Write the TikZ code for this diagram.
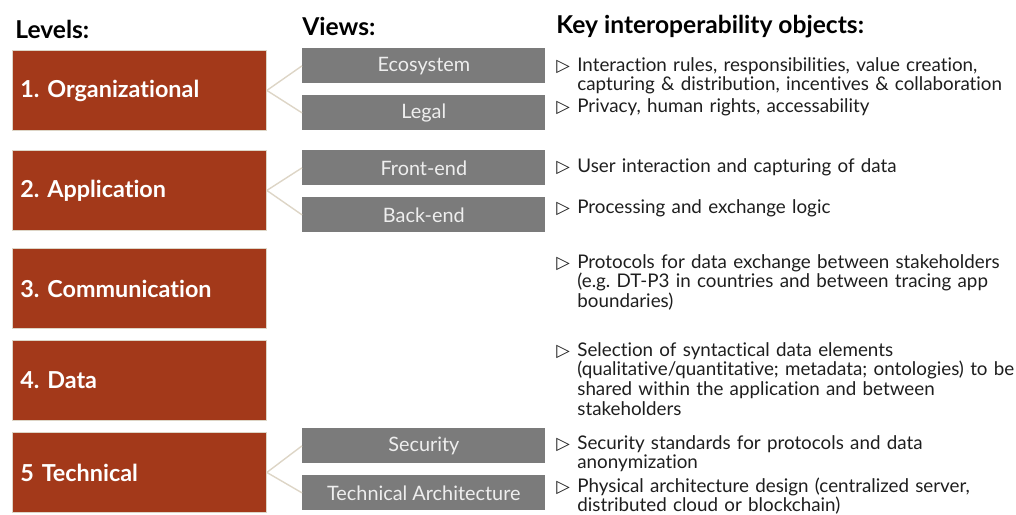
\documentclass[tikz,border=0pt]{standalone}
\usepackage{fontspec}
\setmainfont[Ligatures=NoCommon]{Lato}
\newfontfamily\symfont{DejaVu Sans}
\definecolor{rust}{HTML}{A3391A}
\definecolor{viewgray}{HTML}{7B7B7B}
\definecolor{viewtext}{HTML}{EEEEEE}
\definecolor{linkbeige}{HTML}{DDD5C6}
\definecolor{textdark}{HTML}{1E1E1E}

\begin{document}
\frenchspacing
\begin{tikzpicture}[x=0.02cm,y=-0.02cm,
  head/.style={anchor=base west, inner sep=0, font=\bfseries\fontsize{14}{16}\selectfont},
  levelbox/.style={draw=linkbeige, line width=0.5pt, fill=rust, anchor=north west,
    minimum width=5.08cm, minimum height=1.6cm, text width=4.76cm, inner xsep=0.16cm,
    align=left, text=white, font=\bfseries\fontsize{13.3}{15}\selectfont},
  viewbox/.style={fill=viewgray, anchor=north west, minimum width=4.86cm,
    minimum height=0.7cm, inner sep=0, text=viewtext, font=\fontsize{11.3}{13}\selectfont},
  link/.style={draw=linkbeige, line width=0.8pt},
  tri/.style={anchor=base west, inner sep=0, text=textdark, font=\symfont\fontsize{10}{12}\selectfont},
  item/.style={anchor=base west, inner sep=0, align=left, text width=9.2cm,
    text=textdark, font=\fontsize{10.7}{11.34}\selectfont}]

\useasboundingbox (0,0) rectangle (1016,514);

% column heads
\node[head] (hlev)  at (15,38)  {Levels:};
\node[head] (hview) at (302,35) {Views:};
\node[head] (hkey)  at (556,33) {Key interoperability objects:};

% levels
\node[levelbox] (l1) at (12,50)  {1. Organizational};
\node[levelbox] (l2) at (12,150) {2. Application};
\node[levelbox] (l3) at (12,248) {3. Communication};
\node[levelbox] (l4) at (12,340) {4. Data};
\node[levelbox] (l5) at (12,432) {5 Technical};

% views
\node[viewbox] (v1) at (302,48)  {Ecosystem};
\node[viewbox] (v2) at (302,95)  {Legal};
\node[viewbox] (v3) at (302,150) {Front-end};
\node[viewbox] (v4) at (302,197) {Back-end};
\node[viewbox] (v5) at (302,428) {Security};
\node[viewbox] (v6) at (302,475) {Technical Architecture};

\draw[link] (l1.east) -- (v1.west);
\draw[link] (l1.east) -- (v2.west);
\draw[link] (l2.east) -- (v3.west);
\draw[link] (l2.east) -- (v4.west);
\draw[link] (l5.east) -- (v5.west);
\draw[link] (l5.east) -- (v6.west);

% key objects
\foreach \n/\y in {1/71,2/112,3/172,4/213,5/268,6/356,7/449,8/492}
  \node[tri] (b\n) at (556,\y) {▷};

\node[item] (i1) at (577,71)  {Interaction rules, responsibilities, value creation,\\capturing \& distribution, incentives \& collaboration};
\node[item] (i2) at (577,112) {Privacy, human rights, accessability};
\node[item] (i3) at (577,172) {User interaction and capturing of data};
\node[item] (i4) at (577,213) {Processing and exchange logic};
\node[item] (i5) at (577,268) {Protocols for data exchange between stakeholders\\(e.g. DT-P3 in countries and between tracing app\\boundaries)};
\node[item] (i6) at (577,356) {Selection of syntactical data elements\\(qualitative/quantitative; metadata; ontologies) to be\\shared within the application and between\\stakeholders};
\node[item] (i7) at (577,449) {Security standards for protocols and data\\anonymization};
\node[item] (i8) at (577,492) {Physical architecture design (centralized server,\\distributed cloud or blockchain)};
\end{tikzpicture}
\end{document}
